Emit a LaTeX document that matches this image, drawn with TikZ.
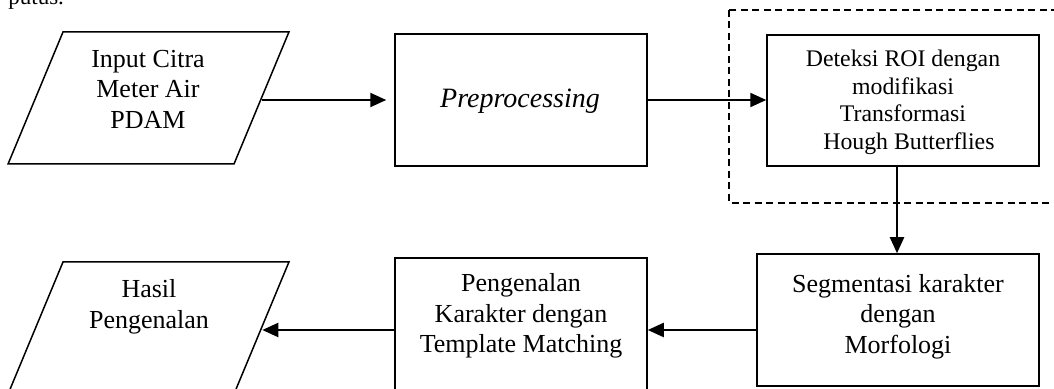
\documentclass[tikz,border=0pt]{standalone}
\usepackage{fontspec}
\setmainfont{Liberation Serif}
\usetikzlibrary{arrows.meta,shapes.geometric}
\begin{document}
\begin{tikzpicture}[x=0.5pt,y=-0.5pt,
  proc/.style={draw, line width=0.75pt, rectangle, inner sep=0pt},
  io/.style={draw, line width=0.75pt, shape=trapezium, trapezium left angle=67.4,
    trapezium right angle=112.6, inner sep=0pt},
  txt/.style={align=center, inner sep=0pt, font=\fontsize{13}{15.25}\selectfont},
  smalltxt/.style={align=center, inner sep=0pt, font=\fontsize{11.9}{13.7}\selectfont},
  flow/.style={-{Triangle[length=8pt,width=7pt]}, line width=1.1pt},
  grp/.style={draw, dash pattern=on 3.5pt off 2.25pt, line width=0.75pt}]
\useasboundingbox (0,0) rectangle (1054,389);
\fill[white] (0,0) rectangle (1054,389);
\clip (0,0) rectangle (1054,389);

% fragment of page text
\node[anchor=base west, inner sep=0pt, font=\fontsize{11.5}{13}\selectfont] (putus) at (8,5) {putus.};

% dashed group
\draw[grp] (729,10) rectangle (1080,203);

% shapes
\node[io] (in) at (148.5,98) {\hbox to 85.5pt{\vrule width 0pt height 66pt depth 0pt\hfil}};
\node[proc, minimum width=126pt, minimum height=66pt] (pre) at (521,100) {};
\node[proc, minimum width=136pt, minimum height=65.5pt] (roi) at (903,100.5) {};
\node[proc, minimum width=141pt, minimum height=66pt] (seg) at (898,320) {};
\node[proc, minimum width=126pt, minimum height=67pt] (peng) at (521,325) {};
\node[io] (hasil) at (148.5,328) {\hbox to 85.5pt{\vrule width 0pt height 66pt depth 0pt\hfil}};

% texts
\node[txt] (tin) at (148,89) {Input Citra\\Meter Air\\PDAM};
\node[txt, font=\fontsize{14}{16}\selectfont] (tpre) at (520,100.8) {\itshape Preprocessing};
\node[smalltxt] (troi) at (903,102.3) {Deteksi ROI dengan\\modifikasi\\Transformasi\\\hspace*{0.5em}Hough Butterflies};
\node[txt] (tseg) at (898,316.5) {Segmentasi karakter\\dengan\\Morfologi};
\node[txt] (tpeng) at (521,316) {Pengenalan\\Karakter dengan\\Template Matching};
\node[txt] (thasil) at (149,307) {Hasil\\Pengenalan};

% connectors
\coordinate (r1) at (0,100);
\coordinate (r2) at (0,330);
\coordinate (c1) at (897,0);
\draw[flow, shorten >=4pt] (in.east |- r1) -- (pre.west |- r1);
\draw[flow] (pre.east |- r1) -- (roi.west |- r1);
\draw[flow] (roi.south -| c1) -- (seg.north -| c1);
\draw[flow] (seg.west |- r2) -- (peng.east |- r2);
\draw[flow] (peng.west |- r2) -- (hasil.east |- r2);
\end{tikzpicture}
\end{document}
